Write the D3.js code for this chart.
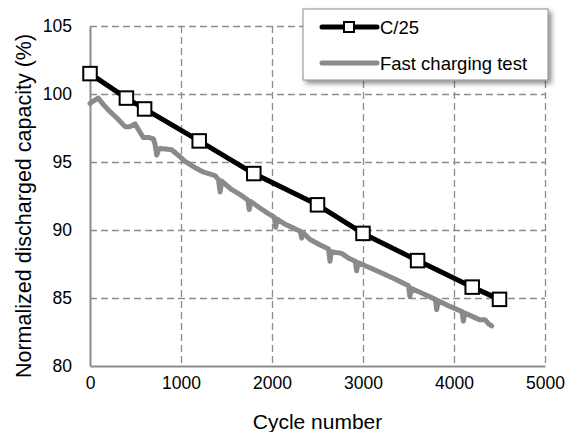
<!DOCTYPE html>
<html>
<head>
<meta charset="utf-8">
<script src="https://cdn.jsdelivr.net/npm/d3@7"></script>
<style>
    body { margin: 0; background: #fff; }
    text { font-family: "Liberation Sans", Arial, sans-serif; fill: #000; }
</style>
</head>
<body>
<div id="chart"></div>
<script>
// C/25 reference check-ups
const c25Cycles = [0, 400, 600, 1200, 1800, 2500, 3000, 3600, 4200, 4500];
const c25Capacity = [101.5, 99.7, 98.9, 96.55, 94.15, 91.85, 89.75, 87.75, 85.8, 84.9];

// fast charging test trace
const fastCycles = [0, 40, 90, 150, 220, 300, 385, 440, 495, 540, 586, 650, 696, 715, 733, 755, 769, 830, 897, 970,
    1044, 1150, 1250, 1374, 1412, 1430, 1448, 1550, 1650, 1735, 1750, 1767, 1870, 1960, 2025, 2040, 2057, 2150, 2250,
    2312, 2326, 2342, 2418, 2530, 2622, 2637, 2652, 2700, 2760, 2850, 2915, 2930, 2945, 3050, 3200, 3350, 3500, 3516,
    3532, 3650, 3795, 3810, 3826, 3950, 4088, 4103, 4118, 4200, 4280, 4341, 4380, 4414];
const fastCapacity = [99.3, 99.5, 99.7, 99.2, 98.7, 98.2, 97.6, 97.6, 97.8, 97.3, 96.8, 96.8, 96.7, 96.3, 95.5, 95.9, 96.0, 95.95, 95.9, 95.5,
    95.05, 94.6, 94.25, 94.0, 93.7, 92.8, 93.6, 93.0, 92.6, 92.2, 91.5, 92.1, 91.6, 91.2, 90.95, 90.2, 90.8, 90.4, 90.1,
    89.9, 89.4, 89.8, 89.3, 88.9, 88.6, 87.7, 88.4, 88.35, 88.3, 87.9, 87.7, 87.0, 87.6, 87.3, 86.85, 86.4, 85.9, 85.1,
    85.7, 85.35, 84.9, 84.15, 84.8, 84.4, 84.0, 83.3, 83.9, 83.65, 83.4, 83.4, 83.1, 82.95];

const xTicks = [0, 1000, 2000, 3000, 4000, 5000];
const yTicks = [80, 85, 90, 95, 100, 105];
const seriesNames = ['C/25', 'Fast charging test'];

const config = {
    width: 575,
    height: 432,
    padding: { top: 26, right: 30, bottom: 66, left: 90 }
};
const innerW = config.width - config.padding.left - config.padding.right;
const innerH = config.height - config.padding.top - config.padding.bottom;

const svg = d3.select('#chart').append('svg')
    .attr('width', config.width)
    .attr('height', config.height);

const defs = svg.append('defs');
const shadow = defs.append('filter').attr('id', 'shadow')
    .attr('x', '-10%').attr('y', '-10%').attr('width', '130%').attr('height', '140%');
shadow.append('feDropShadow')
    .attr('dx', 3).attr('dy', 3).attr('stdDeviation', 2.5)
    .attr('flood-color', '#000').attr('flood-opacity', 0.45);

const xScale = d3.scaleLinear().domain([0, 5000]).range([0, innerW]);
const yScale = d3.scaleLinear().domain([80, 105]).range([innerH, 0]);

const g = svg.append('g')
    .attr('transform', 'translate(' + config.padding.left + ',' + config.padding.top + ')');

// dashed grid
const grid = g.append('g').attr('class', 'grid');
grid.append('g')
    .call(d3.axisBottom(xScale).tickValues(xTicks.slice(1)).tickSize(innerH).tickFormat(''))
    .call(sel => sel.select('.domain').remove());
grid.append('g')
    .call(d3.axisLeft(yScale).tickValues(yTicks.slice(1)).tickSize(-innerW).tickFormat(''))
    .call(sel => sel.select('.domain').remove());
grid.selectAll('line')
    .attr('stroke', '#8c8c8c')
    .attr('stroke-width', 1.3)
    .attr('stroke-dasharray', '7,4');

// axes
const xAxis = g.append('g')
    .attr('transform', 'translate(0,' + innerH + ')')
    .call(d3.axisBottom(xScale).tickValues(xTicks).tickSize(0).tickPadding(11).tickFormat(d3.format('d')));
const yAxis = g.append('g')
    .call(d3.axisLeft(yScale).tickValues(yTicks).tickSize(0).tickPadding(18).tickFormat(d3.format('d')));

[xAxis, yAxis].forEach(a => {
    a.select('.domain').attr('stroke', '#8c8c8c').attr('stroke-width', 2);
    a.selectAll('text')
        .style('font-family', '"Liberation Sans", Arial, sans-serif')
        .style('font-size', '17.5px')
        .attr('fill', '#000');
});

const fastData = fastCycles.map((c, i) => [c, fastCapacity[i]]);
const c25Data = c25Cycles.map((c, i) => [c, c25Capacity[i]]);

const line = d3.line()
    .x(d => xScale(d[0]))
    .y(d => yScale(d[1]));

// fast charging line
g.append('path')
    .datum(fastData)
    .attr('fill', 'none')
    .attr('stroke', '#8a8a8a')
    .attr('stroke-width', 5)
    .attr('stroke-linejoin', 'round')
    .attr('stroke-linecap', 'round')
    .attr('d', line);

// C/25 line + markers
g.append('path')
    .datum(c25Data)
    .attr('fill', 'none')
    .attr('stroke', '#000')
    .attr('stroke-width', 5)
    .attr('stroke-linejoin', 'round')
    .attr('d', line);

const markerSize = 13.5;
g.selectAll('.c25-marker')
    .data(c25Data)
    .enter()
    .append('rect')
    .attr('class', 'c25-marker')
    .attr('x', d => xScale(d[0]) - markerSize / 2)
    .attr('y', d => yScale(d[1]) - markerSize / 2)
    .attr('width', markerSize)
    .attr('height', markerSize)
    .attr('fill', '#fff')
    .attr('stroke', '#000')
    .attr('stroke-width', 2);

// axis titles
svg.append('text')
    .attr('x', config.padding.left + innerW / 2)
    .attr('y', 429)
    .attr('text-anchor', 'middle')
    .style('font-size', '21px')
    .text('Cycle number');

svg.append('text')
    .attr('transform', 'translate(31,' + (config.padding.top + innerH / 2 + 10) + ') rotate(-90)')
    .attr('text-anchor', 'middle')
    .style('font-size', '21.5px')
    .text('Normalized discharged capacity (%)');

// legend
const legend = svg.append('g').attr('transform', 'translate(303,9)');
legend.append('rect')
    .attr('width', 245)
    .attr('height', 71)
    .attr('fill', '#fff')
    .attr('stroke', '#8c8c8c')
    .attr('stroke-width', 1)
    .attr('filter', 'url(#shadow)');

const legendRows = legend.selectAll('.legend-row')
    .data(seriesNames)
    .enter()
    .append('g')
    .attr('class', 'legend-row')
    .attr('transform', (d, i) => 'translate(0,' + (18 + i * 36) + ')');

legendRows.append('line')
    .attr('x1', 19).attr('x2', 74)
    .attr('y1', 0).attr('y2', 0)
    .attr('stroke', (d, i) => i === 0 ? '#000' : '#8a8a8a')
    .attr('stroke-width', 5)
    .attr('stroke-linecap', 'round');

legendRows.filter((d, i) => i === 0)
    .append('rect')
    .attr('x', 41).attr('y', -5)
    .attr('width', 10).attr('height', 10)
    .attr('fill', '#fff')
    .attr('stroke', '#000')
    .attr('stroke-width', 2);

legendRows.append('text')
    .attr('x', 77)
    .attr('y', 7)
    .style('font-size', '18.5px')
    .text(d => d);
</script>
</body>
</html>
